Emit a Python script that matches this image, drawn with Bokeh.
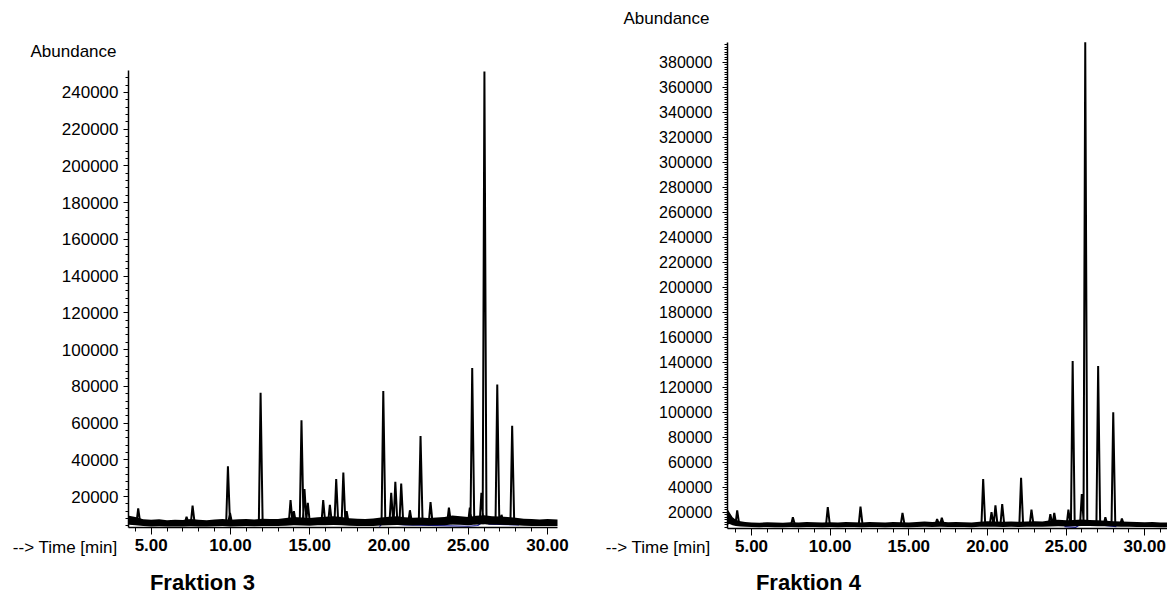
from bokeh.plotting import figure
from bokeh.layouts import row
from bokeh.models import Range1d, SingleIntervalTicker, PrintfTickFormatter, Label
from bokeh.embed import file_html
from bokeh.resources import INLINE

FONT = "Liberation Sans"

# ---------------- Fraktion 3 data ----------------
f3_peak_time = [4.18, 7.23, 7.61, 9.84, 9.97, 11.90, 13.79, 14.00, 14.48, 14.67, 14.88,
                15.85, 16.27, 16.67, 17.12, 17.33, 19.64, 20.14, 20.40, 20.77, 21.32,
                21.99, 22.62, 23.78, 25.10, 25.25, 25.83, 26.02, 26.83, 27.10, 27.77]
f3_peak_height = [13500, 9000, 15000, 36500, 11000, 76500, 18000, 12000, 61500, 24000, 16500,
                  18000, 15500, 29500, 33000, 12000, 77500, 22000, 28000, 27000, 12500,
                  53000, 17000, 14000, 14000, 90000, 22000, 251500, 81000, 10000, 58500]
f3_noise_time = [3.6, 4.0, 4.5, 5.0, 5.5, 6.0, 6.5, 7.0, 7.5, 8.0, 8.5, 9.0, 9.5, 10.0,
                 10.5, 11.0, 11.5, 12.0, 12.5, 13.0, 13.5, 14.0, 14.5, 15.0, 15.5, 16.0,
                 16.5, 17.0, 17.5, 18.0, 18.5, 19.0, 19.5, 20.0, 20.5, 21.0, 21.5, 22.0,
                 22.5, 23.0, 23.5, 24.0, 24.5, 25.0, 25.5, 26.0, 26.5, 27.0, 27.5, 28.0,
                 28.5, 29.0, 29.5, 30.0, 30.63]
f3_noise_low = [4600, 4300, 3900, 3700, 3800, 3600, 3700, 3600, 3800, 3700,
                3600, 3800, 3900, 3700, 3800, 3900, 3800, 4000, 3900, 3900,
                4100, 4300, 4200, 4100, 4300, 4400, 4500, 4300, 4100, 4000,
                3900, 4000, 4200, 4400, 4500, 4300, 4200, 4300, 4200, 4300,
                4400, 4700, 4600, 4400, 4700, 4900, 4700, 4600, 4500, 4300,
                4100, 4000, 3900, 4000, 3900]
f3_noise_high = [9500, 8800, 7600, 7300, 7600, 7000, 7400, 7200, 7800, 7300,
                 7100, 7500, 7800, 7400, 7600, 7800, 7500, 7900, 7700, 7800,
                 8300, 8800, 8600, 8300, 8700, 9000, 9200, 8800, 8200, 7900,
                 7700, 8000, 8500, 9000, 9200, 8700, 8400, 8600, 8300, 8600,
                 8800, 9600, 9300, 8900, 9500, 9800, 9300, 9100, 8800, 8400,
                 7900, 7700, 7500, 7700, 7500]
f3_blue_time = [19.4, 19.7, 20.0, 21.0, 25.0, 25.6, 26.0, 26.3, 28.2]
f3_blue_value = [3600, 6500, 5200, 4500, 3800, 4200, 6500, 5000, 4500]
f3_baseline = 5500

# ---------------- Fraktion 4 data ----------------
f4_peak_time = [4.09, 7.63, 9.85, 11.93, 14.60, 16.80, 17.10, 19.73, 20.26, 20.51,
                20.94, 22.14, 22.80, 24.00, 24.25, 25.15, 25.42, 26.00, 26.22, 27.04, 27.50,
                28.00, 28.55]
f4_peak_height = [21500, 16000, 24000, 24500, 19500, 14500, 15500, 46500, 20000, 25500,
                  26500, 47500, 22000, 18500, 19500, 22000, 141000, 34500, 396000, 137000,
                  16000, 100000, 15000]
f4_noise_time = [3.47, 3.6, 3.8, 4.0, 4.3, 4.6,
                 5.0, 5.5, 6.0, 6.5, 7.0, 7.5, 8.0, 8.5, 9.0, 9.5,
                 10.0, 10.5, 11.0, 11.5, 12.0, 12.5, 13.0, 13.5, 14.0, 14.5,
                 15.0, 15.5, 16.0, 16.5, 17.0, 17.5, 18.0, 18.5, 19.0, 19.5,
                 20.0, 20.5, 21.0, 21.5, 22.0, 22.5, 23.0, 23.5, 24.0, 24.5,
                 25.0, 25.5, 26.0, 26.5, 27.0, 27.5, 28.0, 28.5, 29.0, 29.5,
                 30.0, 30.5, 31.0, 31.45]
f4_noise_low = [10000, 10500, 9500, 9000, 8500, 8300,
                8100, 8000, 8200, 8000, 7900, 8100, 8000, 8200, 8100, 8000,
                8100, 8000, 8200, 8100, 8000, 8200, 8100, 8000, 8200, 8100,
                8000, 8200, 8300, 8200, 8300, 8100, 8200, 8100, 8000, 8300,
                8400, 8300, 8200, 8300, 8200, 8300, 8400, 8300, 8500, 8700,
                8600, 8700, 9000, 8900, 8800, 8700, 8500, 8400, 8300, 8200,
                8100, 8200, 8000, 8000]
f4_noise_high = [22500, 20000, 16000, 14000, 12800, 12200,
                 11800, 11600, 12000, 11700, 11500, 11900, 11700, 12100, 11900, 11700,
                 11900, 11700, 12100, 11900, 11700, 12100, 11900, 11700, 12100, 12000,
                 11800, 12200, 12500, 12200, 12600, 11900, 12100, 12000, 11800, 12400,
                 12800, 12500, 12300, 12500, 12300, 12600, 12800, 12600, 13500, 14000,
                 13500, 13800, 14200, 13800, 13500, 13200, 12800, 12500, 12300, 12100,
                 12000, 12100, 11800, 11800]
f4_blue_time = [24.9, 25.6, 26.0, 26.1, 27.0, 28.2]
f4_blue_value = [8500, 7800, 11000, 9500, 10000, 8500]
f4_baseline = 10000

ytick_step = 20000
xtick_step = 5


def trace(times, heights, base):
    xs, ys = [], []
    for t, h in sorted(zip(times, heights)):
        xs += [t - 0.11, t, t + 0.13]
        ys += [base, h, base]
    return xs, ys


def make_panel(origin_x, width, height, box, ext, ysize, ystand, n_minor_y,
               peaks_t, peaks_h, base, nt, nlo, nhi, bt, bv, labels):
    # box: chart area in page pixels (left, right, top, bottom)
    # ext: data extent of that area (x0, x1, y0, y1)
    fl, fr, ft, fb = box
    x0, x1, y0, y1 = ext
    sx = (x1 - x0) / (fr - fl)
    sy = (y1 - y0) / (fb - ft)
    xr = (x0 - (fl - origin_x) * sx, x0 + (origin_x + width - fl) * sx)
    yr = (y0 - (height - fb) * sy, y0 + fb * sy)

    p = figure(width=width, height=height, output_backend="svg", toolbar_location=None,
               x_range=Range1d(*xr), y_range=Range1d(*yr),
               min_border=0, min_border_left=0, min_border_right=0,
               min_border_top=0, min_border_bottom=0)
    p.outline_line_color = None
    p.grid.visible = False
    p.background_fill_color = "white"
    p.border_fill_color = "white"

    p.xaxis.ticker = SingleIntervalTicker(interval=xtick_step, num_minor_ticks=5)
    p.xaxis.formatter = PrintfTickFormatter(format="%.2f")
    p.yaxis.ticker = SingleIntervalTicker(interval=ytick_step, num_minor_ticks=n_minor_y)
    p.yaxis.formatter = PrintfTickFormatter(format="%d")
    p.xaxis.fixed_location = y0
    p.xaxis.bounds = (x0, x1)
    p.yaxis.fixed_location = x0
    p.yaxis.bounds = (y0, y1)
    for ax in p.axis:
        ax.axis_line_color = "black"
        ax.axis_line_width = 1.5
        ax.major_tick_line_color = "black"
        ax.minor_tick_line_color = "black"
        ax.major_tick_in = 0
        ax.minor_tick_in = 0
        ax.major_label_text_font = FONT
        ax.major_label_text_color = "black"
    p.xaxis.major_tick_out = 7
    p.xaxis.minor_tick_out = 4
    p.xaxis.major_label_text_font_size = "17px"
    p.xaxis.major_label_text_font_style = "bold"
    p.xaxis.major_label_standoff = 4
    p.yaxis.major_tick_out = 5
    p.yaxis.minor_tick_out = 3
    p.yaxis.major_label_text_font_size = ysize
    p.yaxis.major_label_standoff = ystand

    p.line(bt, bv, color="#1a1aa0", line_width=1.2)
    p.varea(x=nt, y1=nlo, y2=nhi, fill_color="black")
    xs, ys = trace(peaks_t, peaks_h, base)
    p.line(xs, ys, color="black", line_width=2.0)

    def dx(px):
        return x0 + (px - fl) * sx

    def dy(py):
        return y0 + (fb - py) * sy

    for text, px, py, align, size, style in labels:
        p.add_layout(Label(x=dx(px), y=dy(py), text=text, text_align=align,
                           text_baseline="middle", text_font=FONT,
                           text_font_size=size, text_font_style=style,
                           text_color="black"))
    return p


left = make_panel(0, 600, 596, (128, 557, 70, 527), (3.568, 30.63, 3119, 251980),
                  "17px", 5, 5,
                  f3_peak_time, f3_peak_height, f3_baseline,
                  f3_noise_time, f3_noise_low, f3_noise_high, f3_blue_time, f3_blue_value,
                  [("Abundance", 30, 51, "left", "17px", "normal"),
                   ("--> Time [min]", 117, 547, "right", "17px", "normal"),
                   ("Fraktion 3", 202, 582, "center", "22px", "bold")])

right = make_panel(600, 567, 596, (727, 1167, 42, 528), (3.474, 31.45, 6960, 395760),
                   "16px", 10, 10,
                   f4_peak_time, f4_peak_height, f4_baseline,
                   f4_noise_time, f4_noise_low, f4_noise_high, f4_blue_time, f4_blue_value,
                   [("Abundance", 623, 18, "left", "17px", "normal"),
                    ("--> Time [min]", 710, 547, "right", "17px", "normal"),
                    ("Fraktion 4", 808, 582, "center", "22px", "bold")])

layout = row(left, right)
open("out.html", "w").write(file_html(layout, INLINE))
